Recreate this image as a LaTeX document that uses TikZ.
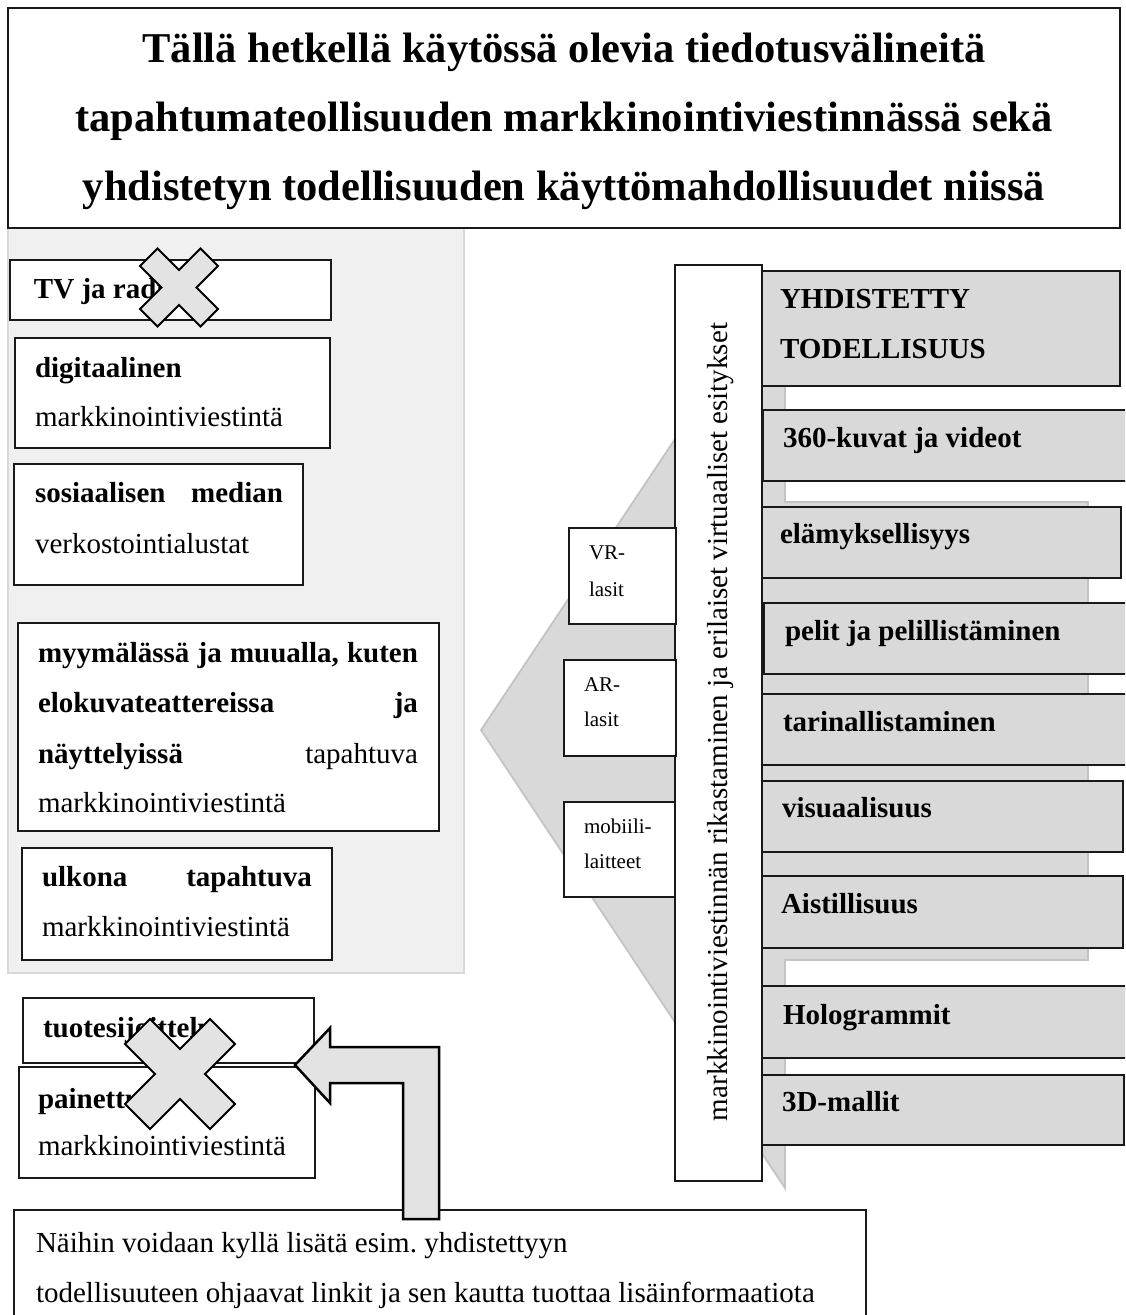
\documentclass[tikz,border=0pt]{standalone}
\usepackage{fontspec}
\setmainfont{Liberation Serif}
\frenchspacing
\definecolor{panelfill}{HTML}{F0F0F0}
\definecolor{paneledge}{HTML}{D9D9D9}
\definecolor{tagfill}{HTML}{D9D9D9}
\definecolor{wedgefill}{HTML}{D9D9D9}
\definecolor{wedgeedge}{HTML}{C4C4C4}
\definecolor{crossfill}{HTML}{E3E3E3}
\newcommand\titlefs{\fontsize{42.5}{50}\selectfont\bfseries}
\newcommand\bodyfs{\fontsize{29}{35}\selectfont}
\newcommand\smallfs{\fontsize{21}{25}\selectfont}
% rectangular frame node from corner (x1,y1) to corner (x2,y2)
\newcommand\mkbox[6][box]{%
  \node[#1, anchor=north west, minimum width={(#5)-(#3)}, minimum height={(#6)-(#4)}] (#2) at (#3,#4) {};}
% X-shaped mark: centre, half size, notch depth
\newcommand\xmark[4]{%
  \draw[crossmark] (#1,#2) ++(-#3+#4,-#3) -- (#1,#2-#4) -- (#1+#3-#4,#2-#3) -- (#1+#3,#2-#3+#4)
    -- (#1+#4,#2) -- (#1+#3,#2+#3-#4) -- (#1+#3-#4,#2+#3) -- (#1,#2+#4) -- (#1-#3+#4,#2+#3)
    -- (#1-#3,#2+#3-#4) -- (#1-#4,#2) -- (#1-#3,#2-#3+#4) -- cycle;}
\begin{document}
\begin{tikzpicture}[x=1pt,y=-1pt,
  box/.style={draw=black!90, line width=1.3pt, fill=white, inner sep=0pt, outer sep=0pt},
  tagbox/.style={box, fill=tagfill},
  panel/.style={draw=paneledge, line width=2.5pt, fill=panelfill, inner sep=0pt, outer sep=0pt},
  txt/.style={inner sep=0pt, outer sep=0pt, font=\bodyfs},
  btxt/.style={inner sep=0pt, outer sep=0pt, font=\bodyfs\bfseries},
  stxt/.style={inner sep=0pt, outer sep=0pt, font=\smallfs},
  crossmark/.style={draw=black, line width=2pt, fill=crossfill, line join=miter},
  blockarrow/.style={draw=black, line width=2.5pt, fill=crossfill, line join=miter},
  wedge/.style={draw=wedgeedge, line width=1.8pt, fill=wedgefill, line join=miter}]
\clip (0,0) rectangle (1125,1315);
\fill[white] (0,0) rectangle (1125,1315);

% ---------- left panel: current media ----------
\mkbox[panel]{panel}{8}{228}{464}{973}

\mkbox{titlebox}{8}{8}{1120}{228}
\node[inner sep=0pt, font=\titlefs, anchor=base] (t1) at (564,62) {Tällä hetkellä käytössä olevia tiedotusvälineitä};
\node[inner sep=0pt, font=\titlefs, anchor=base] (t2) at (564,131) {tapahtumateollisuuden markkinointiviestinnässä sekä};
\node[inner sep=0pt, font=\titlefs, anchor=base] (t3) at (564,200) {yhdistetyn todellisuuden käyttömahdollisuudet niissä};

\mkbox{tv}{10}{260}{331}{320}
\node[btxt, anchor=base west] (tvT) at (34,298) {TV ja radio};

\mkbox{digi}{15}{338}{330}{448}
\node[btxt, anchor=base west] (digiA) at (35,377) {digitaalinen};
\node[txt, anchor=base west] (digiB) at (35,426) {markkinointiviestintä};

\mkbox{some}{14}{464}{303}{585}
\node[btxt, anchor=base west] (someA) at (35,502) {\makebox[248pt][s]{sosiaalisen median}};
\node[txt, anchor=base west] (someB) at (35,553) {verkostointialustat};

\mkbox{shop}{18}{623}{439}{831}
\node[btxt, anchor=base west] (shopA) at (38,662) {\makebox[380pt][s]{myymälässä ja muualla, kuten}};
\node[btxt, anchor=base west] (shopB) at (38,712) {\makebox[380pt][s]{elokuvateattereissa ja}};
\node[txt, anchor=base west] (shopC) at (38,763) {\makebox[380pt][s]{\textbf{näyttelyissä} tapahtuva}};
\node[txt, anchor=base west] (shopD) at (38,812) {markkinointiviestintä};

\mkbox{out}{22}{848}{332}{960}
\node[btxt, anchor=base west] (outA) at (42,886) {\makebox[270pt][s]{ulkona tapahtuva}};
\node[txt, anchor=base west] (outB) at (42,936) {markkinointiviestintä};

% ---------- media to be replaced ----------
\mkbox{place}{23}{998}{314}{1063}
\node[btxt, anchor=base west] (placeT) at (43,1037) {tuotesijoittelu};

\mkbox{print}{19}{1067}{315}{1178}
\node[btxt, anchor=base west] (printA) at (38,1108) {painettu};
\node[txt, anchor=base west] (printB) at (38,1155) {markkinointiviestintä};

\xmark{179}{287.5}{39}{17.5}
\xmark{180}{1074}{55}{25}

% ---------- note and bent block arrow ----------
\mkbox{note}{14}{1210}{866}{1345}
\node[txt, anchor=base west] (noteA) at (36,1252) {Näihin voidaan kyllä lisätä esim. yhdistettyyn};
\node[txt, anchor=base west] (noteB) at (36,1302) {todellisuuteen ohjaavat linkit ja sen kautta tuottaa lisäinformaatiota};

\draw[blockarrow] (439,1219) -- (439,1047) -- (330,1047) -- (330,1028) -- (295,1065)
  -- (330,1103) -- (330,1083) -- (403,1083) -- (403,1219) -- cycle;

% ---------- right side: mixed reality ----------
\draw[wedge] (481,730) -- (785,274) -- (785,502) -- (1088,502) -- (1088,960)
  -- (785,960) -- (785,1188) -- cycle;

\mkbox{vbar}{675}{265}{762}{1181}
\node[txt, rotate=90, anchor=base] (vbarT) at (727,722) {markkinointiviestinnän rikastaminen ja erilaiset virtuaaliset esitykset};

\mkbox{vr}{569}{528}{676}{624}
\node[stxt, anchor=base west] (vrA) at (589,559) {VR-};
\node[stxt, anchor=base west] (vrB) at (589,596) {lasit};

\mkbox{ar}{564}{660}{676}{756}
\node[stxt, anchor=base west] (arA) at (584,691) {AR-};
\node[stxt, anchor=base west] (arB) at (584,726) {lasit};

\mkbox{mob}{564}{802}{675}{897}
\node[stxt, anchor=base west] (mobA) at (584,833) {mobiili-};
\node[stxt, anchor=base west] (mobB) at (584,868) {laitteet};

\mkbox[tagbox]{mr}{762}{271}{1120}{386}
\node[btxt, anchor=base west] (mrA) at (780,308) {YHDISTETTY};
\node[btxt, anchor=base west] (mrB) at (780,358) {TODELLISUUS};

\mkbox[tagbox]{pano}{763}{410}{1130}{481}
\node[btxt, anchor=base west] (panoT) at (783,447) {360-kuvat ja videot};

\mkbox[tagbox]{exp}{762}{507}{1121}{578}
\node[btxt, anchor=base west] (expT) at (780,543) {elämyksellisyys};

\mkbox[tagbox]{game}{764}{603}{1130}{674}
\node[btxt, anchor=base west] (gameT) at (785,640) {pelit ja pelillistäminen};

\mkbox[tagbox]{story}{762}{694}{1130}{765}
\node[btxt, anchor=base west] (storyT) at (783,731) {tarinallistaminen};

\mkbox[tagbox]{visual}{762}{781}{1123}{852}
\node[btxt, anchor=base west] (visualT) at (782,817) {visuaalisuus};

\mkbox[tagbox]{sense}{762}{876}{1123}{948}
\node[btxt, anchor=base west] (senseT) at (781,913) {Aistillisuus};

\mkbox[tagbox]{holo}{762}{986}{1130}{1058}
\node[btxt, anchor=base west] (holoT) at (783,1024) {Hologrammit};

\mkbox[tagbox]{model}{762}{1075}{1124}{1145}
\node[btxt, anchor=base west] (modelT) at (782,1111) {3D-mallit};
\end{tikzpicture}
\end{document}
